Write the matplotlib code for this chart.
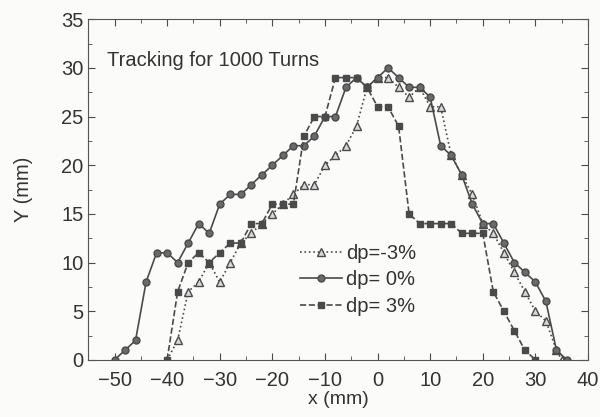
import matplotlib
matplotlib.use("Agg")
import matplotlib.pyplot as plt
from matplotlib.ticker import MultipleLocator

plt.rcParams['font.family'] = ['Liberation Sans', 'DejaVu Sans']

# dp = -3 %  (triangles, dotted)
x_m3 = [-40, -38, -36, -34, -32, -30, -28, -26, -24, -22, -20, -18, -16, -14, -12,
        -10, -8, -6, -4, -2, 0, 2, 4, 6, 8, 10, 12, 14, 16, 18, 20, 22, 24, 26,
        28, 30, 32, 34, 35]
y_m3 = [0, 2, 7, 8, 10, 8, 10, 12, 13, 14, 15, 16, 17, 18, 18,
        20, 21, 22, 24, 28, 29, 29, 28, 27, 28, 26, 26, 21, 19, 17, 14, 13, 11, 9,
        7, 5, 4, 1, 0]

# dp = 0 %  (circles, solid)
x_0 = [-50, -48, -46, -44, -42, -40, -38, -36, -34, -32, -30, -28, -26, -24, -22,
       -20, -18, -16, -14, -12, -10, -8, -6, -4, -2, 0, 2, 4, 6, 8, 10, 12, 14,
       16, 18, 20, 22, 24, 26, 28, 30, 32, 34, 36]
y_0 = [0, 1, 2, 8, 11, 11, 10, 12, 14, 13, 16, 17, 17, 18, 19,
       20, 21, 22, 22, 23, 25, 25, 28, 29, 28, 29, 30, 29, 28, 28, 27, 22, 21,
       19, 16, 14, 14, 12, 10, 9, 8, 6, 1, 0]

# dp = 3 %  (squares, dashed)
x_p3 = [-40, -38, -36, -34, -32, -30, -28, -26, -24, -22, -20, -18, -16, -14, -12,
        -10, -8, -6, -4, -2, 0, 2, 4, 6, 8, 10, 12, 14, 16, 18, 20, 22, 24, 26,
        28, 30]
y_p3 = [0, 7, 10, 11, 10, 11, 12, 12, 14, 14, 16, 16, 16, 23, 25,
        25, 29, 29, 29, 28, 26, 26, 24, 15, 14, 14, 14, 14, 13, 13, 13, 7, 5, 3,
        1, 0]

col = '#4a4a4a'
txt = '#333333'
fig = plt.figure(figsize=(6, 4.17), dpi=100, facecolor='#fbfbfa')
ax = fig.add_axes([0.147, 0.137, 0.833, 0.817])
ax.set_facecolor('#fbfbfa')

ax.plot(x_m3, y_m3, linestyle=':', color=col, lw=1.2, marker='^', ms=5.5,
        mfc='#d8d8d8', mec=col, mew=1.0, label='dp=-3%')
ax.plot(x_0, y_0, linestyle='-', color=col, lw=1.2, marker='o', ms=5,
        mfc='#6a6a6a', mec=col, label='dp= 0%')
ax.plot(x_p3, y_p3, linestyle='--', color=col, lw=1.2, marker='s', ms=4.5,
        mfc='#4a4a4a', mec=col, label='dp= 3%')

ax.set_xlim(-55, 40)
ax.set_ylim(0, 35)
ax.xaxis.set_major_locator(MultipleLocator(10))
ax.xaxis.set_minor_locator(MultipleLocator(5))
ax.yaxis.set_major_locator(MultipleLocator(5))
ax.yaxis.set_minor_locator(MultipleLocator(2.5))
ax.tick_params(which='both', direction='in', top=True, right=True, color=col,
               labelcolor=txt, labelsize=14.5)
ax.tick_params(which='major', length=5)
ax.tick_params(which='minor', length=3)
ax.tick_params(axis='x', pad=8)
for s in ax.spines.values():
    s.set_color('#555555')

ax.set_xlabel('x (mm)', fontsize=14, color=txt, labelpad=1)
ax.set_ylabel('Y (mm)', fontsize=14.5, color=txt, labelpad=20)
ax.text(-51.5, 30.2, 'Tracking for 1000 Turns', fontsize=14.5, color=txt)

leg = ax.legend(loc='center left', bbox_to_anchor=(0.424, 0.235), frameon=False,
                fontsize=14.5, handlelength=2.1, labelspacing=0.38,
                handletextpad=0.2, borderpad=0, borderaxespad=0)
for t in leg.get_texts():
    t.set_color(txt)

fig.savefig('out.png', dpi=100, facecolor=fig.get_facecolor())
